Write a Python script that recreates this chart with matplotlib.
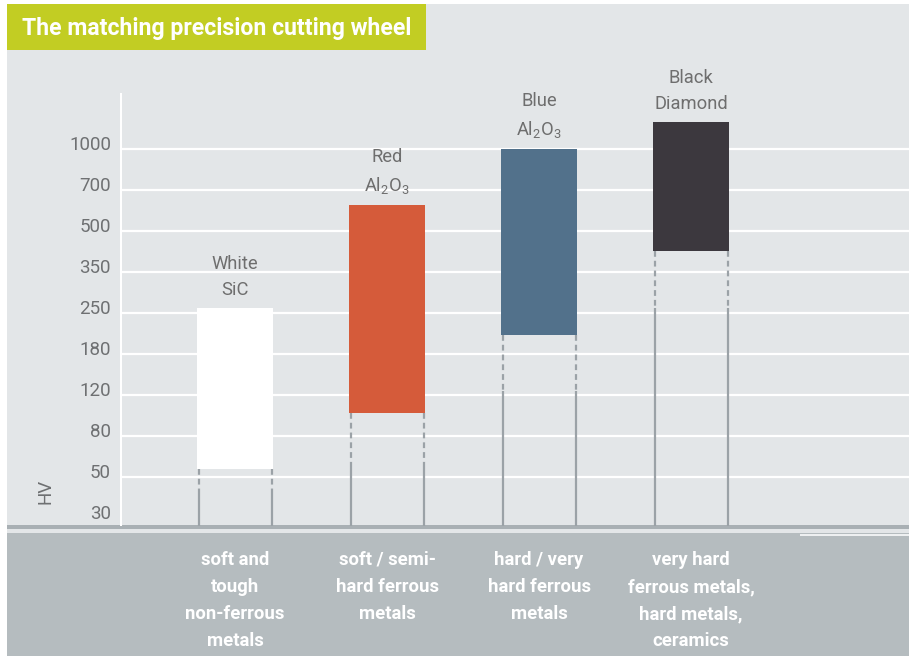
import numpy as np
import matplotlib
matplotlib.use('Agg')
import matplotlib.pyplot as plt
from matplotlib.patches import Rectangle
from matplotlib.transforms import ScaledTranslation, blended_transform_factory

# hardness (HV) scale ticks and cutting wheels
hv_ticks = [30, 50, 80, 120, 180, 250, 350, 500, 700, 1000]
wheels = ['White\nSiC', 'Red\nAl$_\\mathregular{2}$O$_\\mathregular{3}$',
          'Blue\nAl$_\\mathregular{2}$O$_\\mathregular{3}$', 'Black\nDiamond']
wheel_low = [55, 100, 210, 420]
wheel_high = [260, 620, 1000, 1270]
material_high = [42, 57, 125, 260]
materials = ['soft and\ntough\nnon-ferrous\nmetals',
             'soft / semi-\nhard ferrous\nmetals',
             'hard / very\nhard ferrous\nmetals',
             'very hard\nferrous metals,\nhard metals,\nceramics']
colors = ['#ffffff', '#d55b3a', '#52718b', '#3c383e']

plt.rcParams['font.family'] = ['Roboto', 'DejaVu Sans']
plt.rcParams['mathtext.fontset'] = 'custom'
plt.rcParams['mathtext.rm'] = 'Roboto'

log_ticks = np.log(hv_ticks)
n = len(hv_ticks)


def hv_to_pos(v):
    lv = np.log(np.clip(np.asarray(v, float), 1e-6, None))
    pos = np.interp(lv, log_ticks, np.arange(n))
    pos = np.where(lv < log_ticks[0],
                   (lv - log_ticks[0]) / (log_ticks[1] - log_ticks[0]), pos)
    pos = np.where(lv > log_ticks[-1],
                   n - 1 + (lv - log_ticks[-1]) / (log_ticks[-1] - log_ticks[-2]), pos)
    return pos


def pos_to_hv(p):
    p = np.asarray(p, float)
    lv = np.interp(p, np.arange(n), log_ticks)
    lv = np.where(p < 0, log_ticks[0] + p * (log_ticks[1] - log_ticks[0]), lv)
    lv = np.where(p > n - 1,
                  log_ticks[-1] + (p - (n - 1)) * (log_ticks[-1] - log_ticks[-2]), lv)
    return np.exp(lv)


W, H = 909, 656
fig = plt.figure(figsize=(W / 100, H / 100), dpi=100, facecolor='white')


def fx(px):
    return px / W


def fy(py):
    return 1 - py / H


def fig_rect(x0, y0, x1, y1, color, z=0):
    fig.add_artist(Rectangle((fx(x0), fy(y1)), fx(x1) - fx(x0), fy(y0) - fy(y1),
                             transform=fig.transFigure, facecolor=color,
                             edgecolor='none', zorder=z))


# panel, footer band, title box
fig_rect(7, 4, W, H, '#e3e6e8', z=-10)
fig_rect(7, 525, W, 528.5, '#a9b0b4', z=-9)
fig_rect(7, 533, W, H, '#b5bcbf', z=-9)
fig_rect(800, 534, W, 535.5, '#eef0f1', z=-8)
fig_rect(7, 4, 426, 50, '#c2cd23', z=-8)
fig.text(fx(22), fy(29), 'The matching precision cutting wheel', color='white',
         fontsize=16.6, fontweight='bold', ha='left', va='center')

ax = fig.add_axes([fx(120), fy(526), fx(W) - fx(120), fy(93) - fy(526)])
ax.set_facecolor('none')
ax.set_yscale('function', functions=(hv_to_pos, pos_to_hv))
ax.set_ylim(pos_to_hv(-0.195), pos_to_hv(10.366))
ax.set_xlim(-0.757, 4.434)
for s in ax.spines.values():
    s.set_visible(False)

for t in hv_ticks[1:]:
    ax.axhline(t, color='white', lw=1.6, zorder=1)
ax.axvline(-0.757, color='white', lw=2.2, zorder=1)

ax.set_yticks(hv_ticks)
ax.set_yticklabels([str(t) for t in hv_ticks])
ax.yaxis.set_minor_locator(matplotlib.ticker.NullLocator())
ax.tick_params(axis='y', length=0, pad=6.5, labelsize=13.5, labelcolor='#6e7072')
ax.tick_params(axis='x', length=0, labelbottom=False)
for lab in ax.get_yticklabels():
    lab.set_transform(lab.get_transform() + ScaledTranslation(0, 4 / 72, fig.dpi_scale_trans))

fig.text(fx(45), fy(491), 'HV', rotation=90, fontsize=13.5, color='#6e7072',
         ha='center', va='center')

x = np.arange(len(wheels))
bw = 0.5
ax.bar(x, np.array(wheel_high) - np.array(wheel_low), bottom=wheel_low, width=bw,
       color=colors, zorder=3)

y_base = ax.get_ylim()[0]
for i in range(len(wheels)):
    for xe in (x[i] - bw / 2 + 0.01, x[i] + bw / 2 - 0.01):
        ax.plot([xe, xe], [wheel_low[i], material_high[i]], color='#9ba2a7', lw=1.6,
                dashes=(2.6, 1.8), solid_capstyle='butt', zorder=2)
        ax.plot([xe, xe], [material_high[i], y_base], color='#9ba2a7', lw=1.6,
                solid_capstyle='butt', zorder=2, clip_on=False)
    ax.annotate(wheels[i], (x[i], wheel_high[i]), xytext=(0, 6.5),
                textcoords='offset points', ha='center', va='bottom',
                fontsize=13.2, color='#6e6e6e', linespacing=1.55)

band = blended_transform_factory(ax.transData, fig.transFigure)
for i, m in enumerate(materials):
    ax.text(x[i], fy(551), m, transform=band, ha='center', va='top', fontsize=13.3,
            fontweight='bold', color='white', linespacing=1.65)

fig.savefig('out.png', dpi=100)
